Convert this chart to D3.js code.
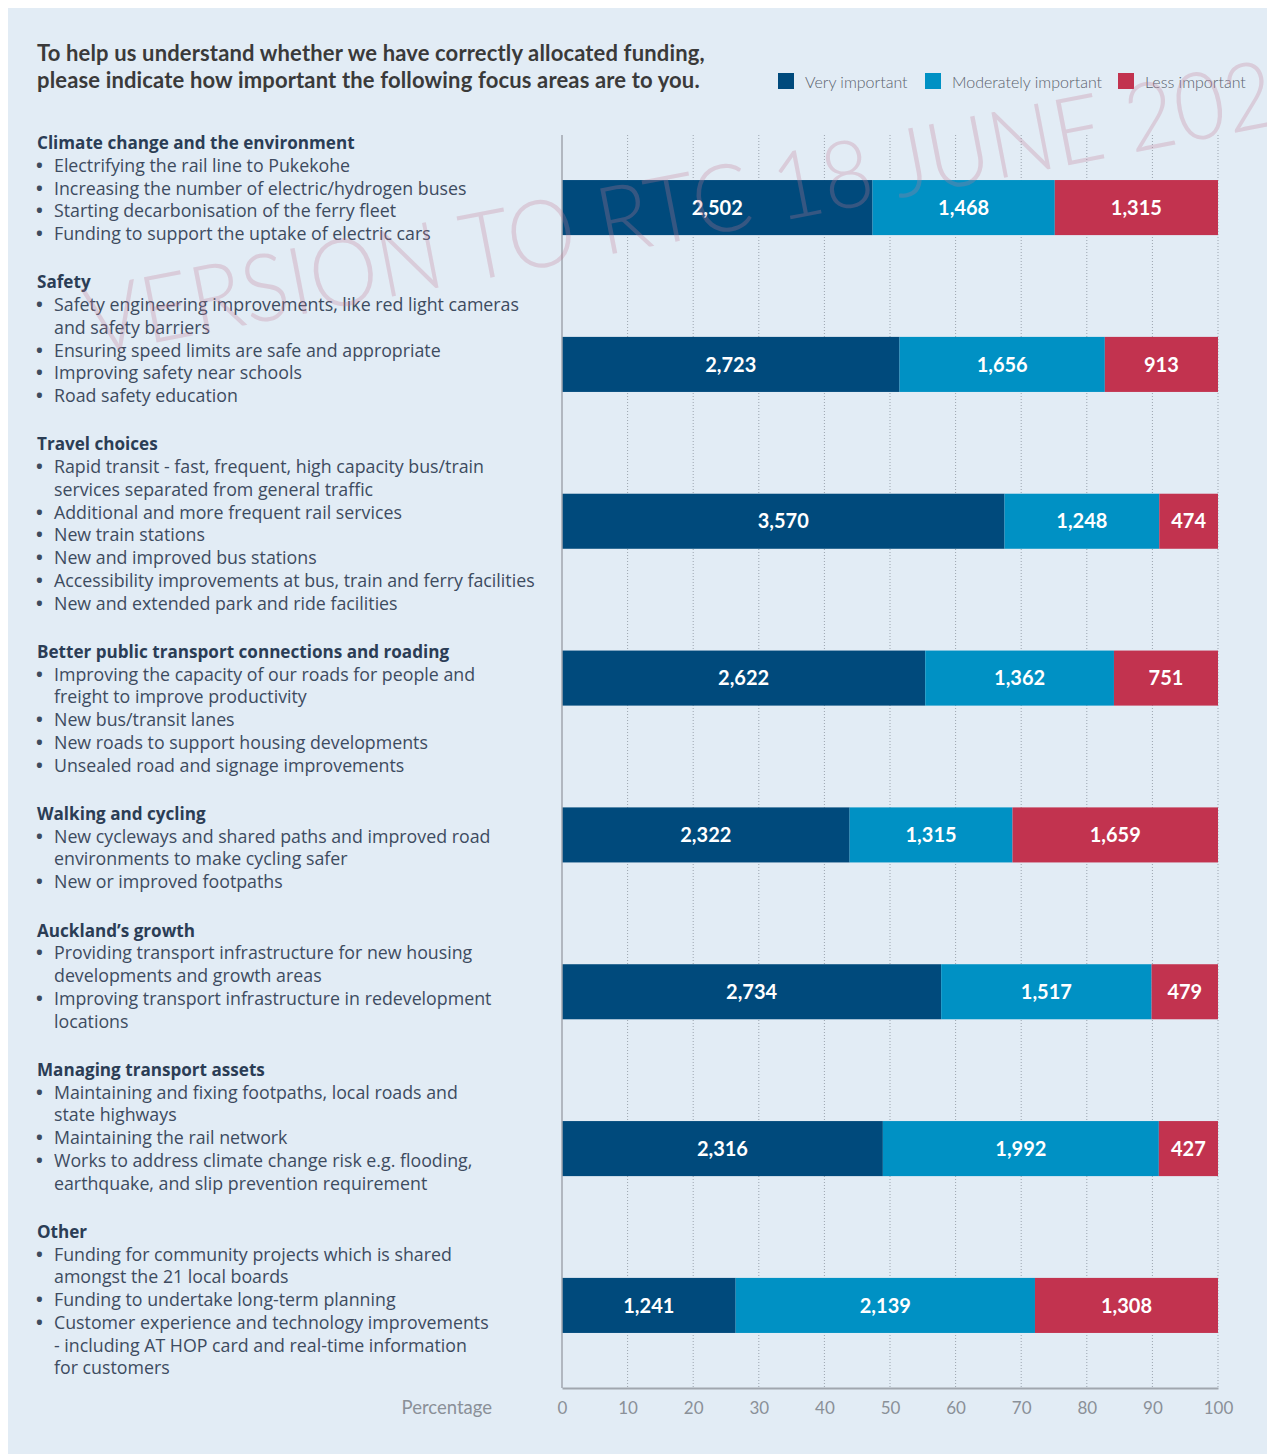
<!DOCTYPE html>
<html>
<head>
<meta charset="utf-8">
<script src="https://cdn.jsdelivr.net/npm/d3@7"></script>
<style>
  body { margin: 0; background: #fff; }
  svg { display: block; }
</style>
</head>
<body>
<svg id="chart"></svg>
<script>
const categories = [
    'Climate change and the environment',
    'Safety',
    'Travel choices',
    'Better public transport connections and roading',
    'Walking and cycling',
    'Auckland\u2019s growth',
    'Managing transport assets',
    'Other'
];

// each bullet is a list of its wrapped lines
const bullets = [
    [['Electrifying the rail line to Pukekohe'],
     ['Increasing the number of electric/hydrogen buses'],
     ['Starting decarbonisation of the ferry fleet'],
     ['Funding to support the uptake of electric cars']],
    [['Safety engineering improvements, like red light cameras', 'and safety barriers'],
     ['Ensuring speed limits are safe and appropriate'],
     ['Improving safety near schools'],
     ['Road safety education']],
    [['Rapid transit - fast, frequent, high capacity bus/train', 'services separated from general traffic'],
     ['Additional and more frequent rail services'],
     ['New train stations'],
     ['New and improved bus stations'],
     ['Accessibility improvements at bus, train and ferry facilities'],
     ['New and extended park and ride facilities']],
    [['Improving the capacity of our roads for people and', 'freight to improve productivity'],
     ['New bus/transit lanes'],
     ['New roads to support housing developments'],
     ['Unsealed road and signage improvements']],
    [['New cycleways and shared paths and improved road', 'environments to make cycling safer'],
     ['New or improved footpaths']],
    [['Providing transport infrastructure for new housing', 'developments and growth areas'],
     ['Improving transport infrastructure in redevelopment', 'locations']],
    [['Maintaining and fixing footpaths, local roads and', 'state highways'],
     ['Maintaining the rail network'],
     ['Works to address climate change risk e.g. flooding,', 'earthquake, and slip prevention requirement']],
    [['Funding for community projects which is shared', 'amongst the 21 local boards'],
     ['Funding to undertake long-term planning'],
     ['Customer experience and technology improvements', '- including AT HOP card and real-time information', 'for customers']]
];

const seriesNames = ['Very important', 'Moderately important', 'Less important'];
const veryImportant = [2502, 2723, 3570, 2622, 2322, 2734, 2316, 1241];
const moderatelyImportant = [1468, 1656, 1248, 1362, 1315, 1517, 1992, 2139];
const lessImportant = [1315, 913, 474, 751, 1659, 479, 427, 1308];
const tickValues = [0, 10, 20, 30, 40, 50, 60, 70, 80, 90, 100];

const colors = ['#004a7c', '#0091c4', '#c2334f'];

const width = 1267;
const height = 1454;
const font = 'Lato, "Open Sans", sans-serif';
const bodyFont = '"Open Sans", Lato, sans-serif';

const svg = d3.select('#chart')
    .attr('width', width)
    .attr('height', height)
    .style('font-family', font);

svg.append('rect')
    .attr('x', 8).attr('y', 8)
    .attr('width', width - 8).attr('height', height - 8)
    .attr('fill', '#e2ecf5');

// title
const title = svg.append('text')
    .attr('x', 37).attr('y', 61)
    .attr('fill', '#3a3a3a')
    .style('font-size', '22px')
    .style('font-weight', 700)
    .style('letter-spacing', '0.15px');
title.append('tspan').attr('x', 37).text('To help us understand whether we have correctly allocated funding,');
title.append('tspan').attr('x', 37).attr('dy', 27).text('please indicate how important the following focus areas are to you.');

// legend
const legendX = [778, 925, 1118];
const legend = svg.append('g').selectAll('g')
    .data(seriesNames)
    .join('g')
    .attr('transform', (d, i) => `translate(${legendX[i]},73)`);
legend.append('rect')
    .attr('width', 16).attr('height', 16)
    .attr('fill', (d, i) => colors[i]);
legend.append('text')
    .attr('x', 27).attr('y', 15)
    .attr('fill', '#5a626d')
    .style('font-size', '16px')
    .style('font-weight', 300)
    .text(d => d);

// chart
const table = categories.map((c, i) => {
    const total = veryImportant[i] + moderatelyImportant[i] + lessImportant[i];
    return {
        category: c,
        counts: [veryImportant[i], moderatelyImportant[i], lessImportant[i]],
        'Very important': veryImportant[i] / total * 100,
        'Moderately important': moderatelyImportant[i] / total * 100,
        'Less important': lessImportant[i] / total * 100
    };
});

const x = d3.scaleLinear().domain([0, 100]).range([562, 1218]);
const y = d3.scaleBand()
    .domain(categories)
    .range([133, 1380])
    .paddingInner(0.649)
    .paddingOuter(0.3);

const plotTop = 135;
const plotBottom = 1388;

// gridlines
svg.append('g').selectAll('line')
    .data(tickValues.slice(1))
    .join('line')
    .attr('x1', d => x(d)).attr('x2', d => x(d))
    .attr('y1', plotTop).attr('y2', plotBottom)
    .attr('stroke', '#9ba4ae')
    .attr('stroke-width', 1)
    .attr('stroke-dasharray', '1,2');

const stacked = d3.stack().keys(seriesNames)(table);

const layers = svg.append('g').selectAll('g')
    .data(stacked)
    .join('g')
    .attr('fill', (d, i) => colors[i]);

layers.selectAll('rect')
    .data(d => d)
    .join('rect')
    .attr('x', d => x(d[0]))
    .attr('width', d => x(d[1]) - x(d[0]))
    .attr('y', d => y(d.data.category))
    .attr('height', y.bandwidth());

stacked.forEach((layer, k) => {
    svg.append('g').selectAll('text')
        .data(layer)
        .join('text')
        .attr('x', d => (x(d[0]) + x(d[1])) / 2)
        .attr('y', d => y(d.data.category) + y.bandwidth() / 2)
        .attr('dy', '0.36em')
        .attr('text-anchor', 'middle')
        .attr('fill', '#fff')
        .style('font-size', '20px')
        .style('font-weight', 700)
        .text(d => d3.format(',')(d.data.counts[k]));
});

// axes
svg.append('line')
    .attr('x1', x(0)).attr('x2', x(0))
    .attr('y1', plotTop).attr('y2', plotBottom)
    .attr('stroke', '#a0a6ae').attr('stroke-width', 1.5);

const xAxis = svg.append('g')
    .attr('transform', `translate(0,${plotBottom})`)
    .call(d3.axisBottom(x).tickValues(tickValues).tickSize(0).tickPadding(14));
xAxis.select('.domain').attr('stroke', '#a0a6ae').attr('stroke-width', 2);
xAxis.selectAll('text')
    .attr('fill', '#8a9098')
    .style('font-size', '17px')
    .style('font-family', font);

svg.append('text')
    .attr('x', 492).attr('y', 1414)
    .attr('text-anchor', 'end')
    .attr('fill', '#8a9098')
    .style('font-size', '18.5px')
    .text('Percentage');

// category descriptions
const lineH = 22.75;
const blockGap = 48.3;
let ty = 149;
const desc = svg.append('g').style('font-family', bodyFont);
categories.forEach((c, i) => {
    desc.append('text')
        .attr('x', 37).attr('y', ty)
        .attr('fill', '#2b3d55')
        .style('font-size', '17.1px')
        .style('font-weight', 700)
        .text(c);
    bullets[i].forEach(lines => {
        ty += lineH;
        desc.append('text')
            .attr('x', 36).attr('y', ty)
            .attr('fill', '#3d4b5f')
            .style('font-size', '18px')
            .style('font-weight', 700)
            .text('\u2022');
        lines.forEach((line, j) => {
            if (j > 0) ty += lineH;
            desc.append('text')
                .attr('x', 54).attr('y', ty)
                .attr('fill', '#3d4b5f')
                .style('font-size', '17.8px')
                .text(line);
        });
    });
    ty += blockGap;
});

// watermark
svg.append('text')
    .attr('transform', 'translate(92,355) rotate(-11)')
    .attr('fill', '#c27a92')
    .attr('fill-opacity', 0.28)
    .style('font-size', '94px')
    .style('font-weight', 300)
    .attr('textLength', 1260)
    .attr('lengthAdjust', 'spacingAndGlyphs')
    .text('VERSION TO RTC 18 JUNE 2021');
</script>
</body>
</html>
